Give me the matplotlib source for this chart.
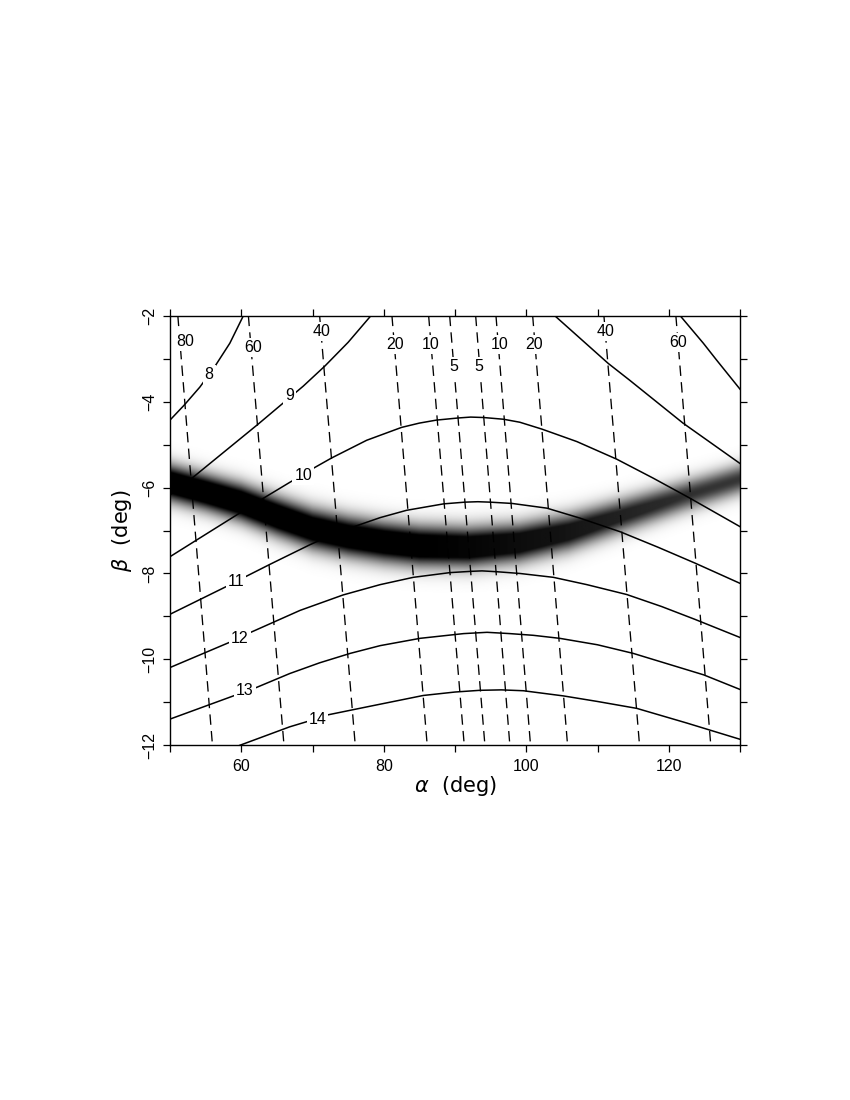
import numpy as np
import matplotlib
matplotlib.use('Agg')
import matplotlib.pyplot as plt

plt.rcParams['font.family'] = ['Liberation Sans', 'DejaVu Sans']
plt.rcParams['mathtext.fontset'] = 'dejavusans'
plt.rcParams['lines.scale_dashes'] = False

# ---------------- data ----------------
alpha_range = [50, 130]
beta_range = [-12, -2]

# solid contours (levels 8 ... 14)
c8a_alpha = [50.0, 52.0, 54.2, 56.3, 58.4, 60.3]
c8a_beta = [-4.43, -4.08, -3.66, -3.18, -2.64, -2.0]
c8b_alpha = [121.6, 124.85, 126.7, 130.0]
c8b_beta = [-2.0, -2.64, -3.03, -3.71]
c9a_alpha = [50.0, 52.8, 62.4, 68.7, 71.75, 75.0, 78.2]
c9a_beta = [-6.17, -5.82, -4.52, -3.64, -3.17, -2.62, -2.0]
c9b_alpha = [104.0, 111.5, 114.5, 122.0, 130.0]
c9b_beta = [-2.0, -3.11, -3.50, -4.50, -5.44]
c10_alpha = [50, 53.75, 63.1, 66.8, 70.35, 72.7, 77.6, 82.5, 85.0, 87.4, 90.5, 92.2, 94.0,
             96.8, 99.1, 102.2, 107.1, 112.7, 117.8, 123.0, 130]
c10_beta = [-7.61, -7.22, -6.25, -5.88, -5.53, -5.31, -4.90, -4.60, -4.50, -4.43, -4.38,
            -4.36, -4.37, -4.41, -4.48, -4.64, -4.93, -5.34, -5.78, -6.25, -6.91]
c11_alpha = [50, 57.96, 60.3, 64.0, 69.65, 73.4, 79.5, 83.2, 88.4, 91.4, 93.2, 94.9,
             98.0, 102.9, 107.5, 113.2, 118.5, 123.7, 130]
c11_beta = [-8.95, -8.30, -8.10, -7.79, -7.33, -7.05, -6.70, -6.53, -6.38, -6.34, -6.33, -6.34,
            -6.37, -6.48, -6.71, -7.03, -7.39, -7.76, -8.23]
c12_alpha = [50, 58.4, 61.2, 68.25, 74.3, 79.5, 84.15, 89.3, 92.3, 93.8, 95.9, 99.1,
             103.8, 108.5, 114.1, 119.0, 123.7, 130]
c12_beta = [-10.19, -9.60, -9.38, -8.86, -8.50, -8.26, -8.09, -7.98, -7.95, -7.94, -7.96,
            -8.00, -8.09, -8.26, -8.49, -8.77, -9.07, -9.49]
c13_alpha = [50, 58.9, 61.9, 66.8, 71.0, 75.3, 79.5, 85.1, 91.2, 94.5, 97.7, 101.0, 104.7,
             110.0, 115.0, 124.9, 130]
c13_beta = [-11.39, -10.85, -10.67, -10.33, -10.08, -9.86, -9.68, -9.51, -9.40, -9.37, -9.40,
            -9.44, -9.51, -9.66, -9.86, -10.36, -10.70]
c14_alpha = [59.8, 66.8, 69.2, 72.2, 78.1, 85.55, 90.0, 93.5, 96.5, 99.6, 105.2, 110.0,
             115.5, 122.5, 130]
c14_beta = [-12.0, -11.57, -11.45, -11.29, -11.09, -10.84, -10.76, -10.72, -10.71, -10.73,
            -10.85, -10.98, -11.14, -11.48, -11.86]

solid_label_text = ['8', '9', '10', '11', '12', '13', '14']
solid_label_alpha = [55.5, 66.8, 68.7, 59.3, 59.8, 60.5, 70.7]
solid_label_beta = [-3.36, -3.85, -5.72, -8.19, -9.51, -10.73, -11.39]

# dashed contours: alpha at beta=-2 (top) and beta=-12 (bottom)
dash_label_text = ['80', '60', '40', '20', '10', '5', '5', '10', '20', '40', '60']
dash_top_alpha = [51.1, 61.0, 71.0, 81.15, 86.3, 89.25, 92.9, 95.75, 100.9, 110.9, 121.0]
dash_bot_alpha = [55.96, 66.0, 76.0, 86.1, 91.3, 94.2, 97.7, 100.6, 105.8, 115.9, 125.9]
dash_label_alpha = [52.1, 61.6, 71.3, 81.6, 86.6, 89.8, 93.4, 96.2, 101.1, 111.15, 121.3]
dash_label_beta = [-2.61, -2.74, -2.36, -2.68, -2.68, -3.19, -3.19, -2.68, -2.68, -2.36, -2.63]

# grey likelihood band: centre line, spread, plateau gain and peak darkness
band_alpha = [50, 55, 60, 65, 70, 75, 80, 85, 92, 99, 106, 113, 118, 122, 126, 130]
band_beta = [-5.90, -6.12, -6.36, -6.68, -6.97, -7.15, -7.28, -7.37, -7.40, -7.30,
             -7.05, -6.69, -6.43, -6.22, -6.02, -5.82]
band_sigma = [0.28, 0.28, 0.29, 0.30, 0.31, 0.31, 0.31, 0.31, 0.31, 0.30,
              0.29, 0.27, 0.26, 0.25, 0.245, 0.24]
band_gain = [1.45, 1.45, 1.45, 1.45, 1.4, 1.4, 1.4, 1.4, 1.35, 1.3, 1.2, 1.1, 1.05, 1.0,
             1.0, 1.0]
band_peak = [1.0, 1.0, 1.0, 1.0, 1.0, 1.0, 1.0, 1.0, 0.98, 0.95, 0.92, 0.87, 0.84, 0.82,
             0.8, 0.79]

x_major = [60, 80, 100, 120]
x_minor = [50, 70, 90, 110, 130]
y_major = [-12, -10, -8, -6, -4, -2]
y_minor = [-11, -9, -7, -5, -3]

# ---------------- figure ----------------
fig = plt.figure(figsize=(8.5, 11), dpi=100)
ax = fig.add_axes([170 / 850, 1 - 745.3 / 1100, 570 / 850, (745.3 - 315.7) / 1100])

# band image
ga = np.linspace(alpha_range[0], alpha_range[1], 801)
gb = np.linspace(beta_range[0], beta_range[1], 1001)
A, B = np.meshgrid(ga, gb)
cen = np.interp(A, band_alpha, band_beta)
sig = np.interp(A, band_alpha, band_sigma)
gain = np.interp(A, band_alpha, band_gain)
pk = np.interp(A, band_alpha, band_peak)
dark = pk * np.clip(gain * np.exp(-0.5 * ((B - cen) / sig) ** 2), 0, 1)
ax.imshow(dark, extent=[alpha_range[0], alpha_range[1], beta_range[0], beta_range[1]],
          origin='lower', cmap='gray_r', vmin=0, vmax=1, aspect='auto',
          interpolation='bilinear', zorder=0)

# solid contours
for xa, yb in [(c8a_alpha, c8a_beta), (c8b_alpha, c8b_beta), (c9a_alpha, c9a_beta),
               (c9b_alpha, c9b_beta), (c10_alpha, c10_beta), (c11_alpha, c11_beta),
               (c12_alpha, c12_beta), (c13_alpha, c13_beta), (c14_alpha, c14_beta)]:
    ax.plot(xa, yb, color='black', lw=1.1, solid_joinstyle='round', zorder=2)

# dashed contours
for ta, ba in zip(dash_top_alpha, dash_bot_alpha):
    ax.plot([ta, ba], [beta_range[1], beta_range[0]], color='black', lw=0.95,
            dashes=(7.5, 4.5), zorder=2)

box = dict(boxstyle='square,pad=0.12', fc='white', ec='none')
for t, a, b in zip(solid_label_text, solid_label_alpha, solid_label_beta):
    ax.text(a, b, t, ha='center', va='center', fontsize=11.5, bbox=box, zorder=4)
for t, a, b in zip(dash_label_text, dash_label_alpha, dash_label_beta):
    ax.text(a, b, t, ha='center', va='center', fontsize=11.5, bbox=box, zorder=4)

ax.set_xlim(alpha_range)
ax.set_ylim(beta_range)
ax.set_xticks(x_major)
ax.set_xticks(x_minor, minor=True)
ax.set_yticks(y_major)
ax.set_yticks(y_minor, minor=True)
ax.tick_params(which='both', direction='out', length=5, width=0.9, top=True, right=True,
               labeltop=False, labelright=False, labelsize=11.5, color='black')
ax.tick_params(axis='x', pad=5)
ax.tick_params(axis='y', pad=4, labelrotation=90)
for lab in ax.get_yticklabels():
    lab.set_va('center')
for s in ax.spines.values():
    s.set_linewidth(1.0)

ax.set_xlabel(r'$\alpha$  (deg)', fontsize=15, labelpad=0, family=['DejaVu Sans'])
ax.set_ylabel(r'$\beta$  (deg)', fontsize=15, labelpad=6, family=['DejaVu Sans'])

fig.savefig('out.png', dpi=100)
